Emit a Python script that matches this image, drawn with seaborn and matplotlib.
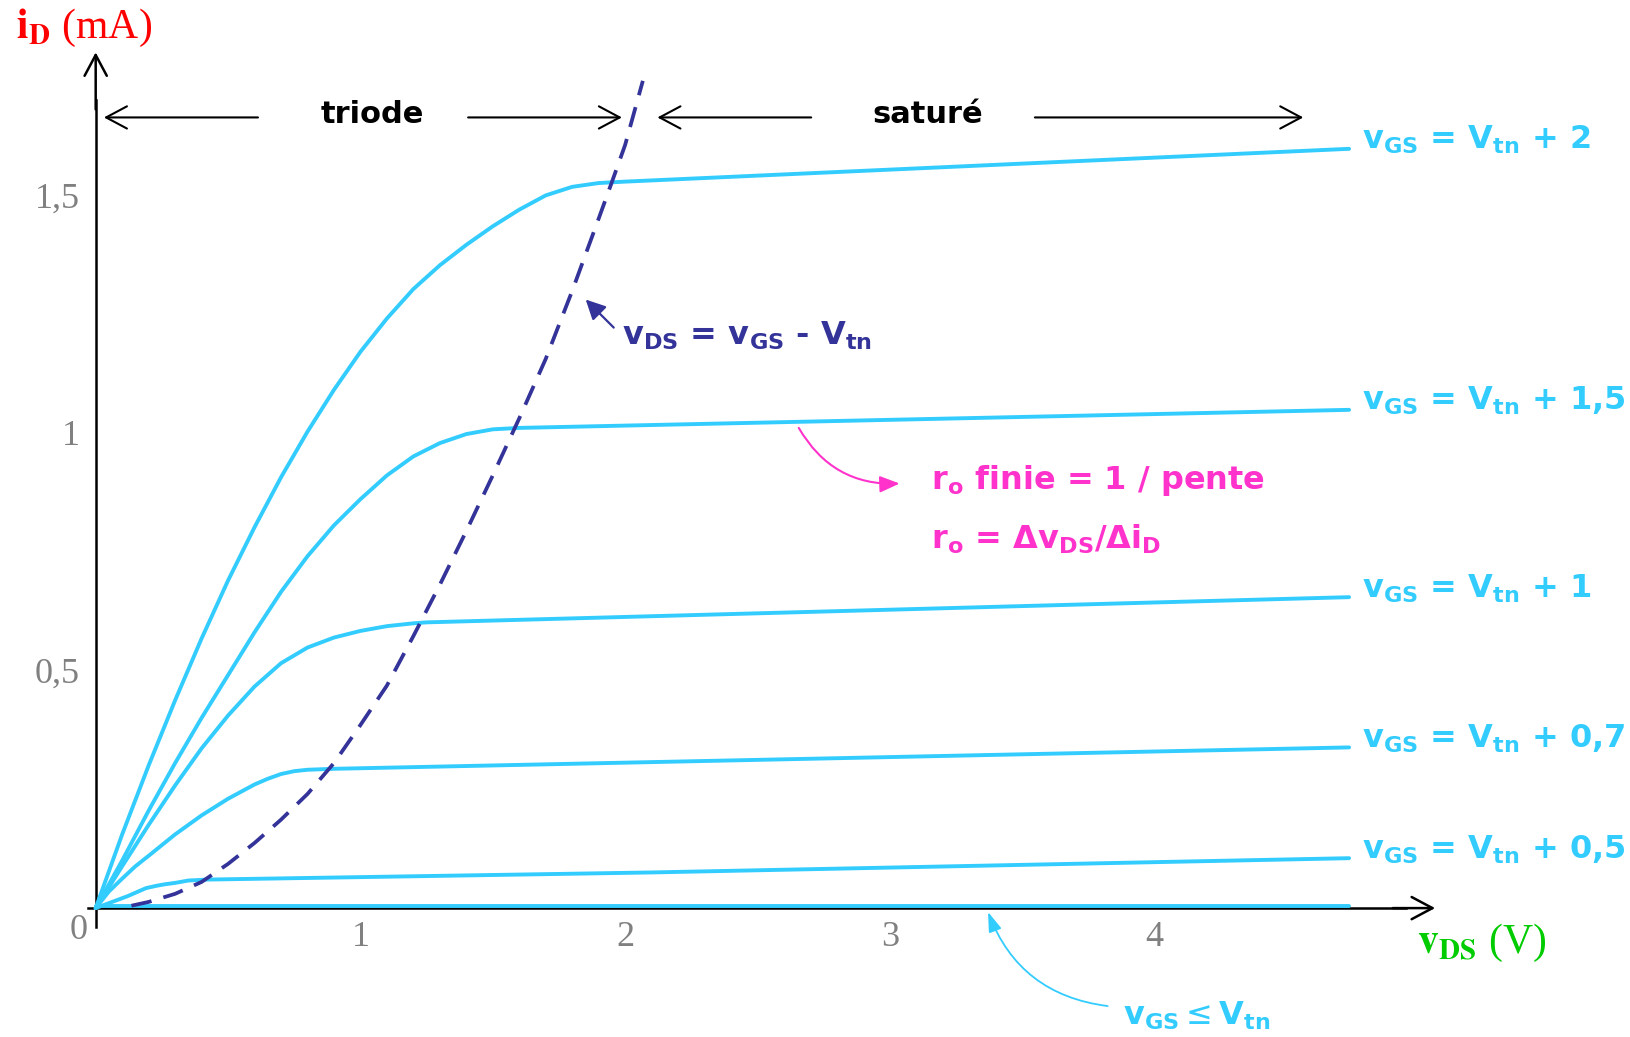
import numpy as np
import pandas as pd
import matplotlib
matplotlib.use("Agg")
import matplotlib.pyplot as plt
import seaborn as sns

# Output characteristics of an n-channel MOSFET: drain current (mA) vs drain-source voltage (V)
vds_2 = [0, 0.1, 0.2, 0.3, 0.4, 0.5, 0.6, 0.7, 0.8, 0.9, 1.0, 1.1, 1.2, 1.3, 1.4, 1.5, 1.6, 1.7, 1.8, 1.9, 2.0, 4.735]
id_2 = [0, 0.155, 0.300, 0.437, 0.567, 0.689, 0.801, 0.906, 1.002, 1.090, 1.170, 1.240, 1.302, 1.352,
        1.395, 1.434, 1.469, 1.499, 1.517, 1.525, 1.528, 1.597]

vds_15 = [0, 0.1, 0.2, 0.3, 0.4, 0.5, 0.6, 0.7, 0.8, 0.9, 1.0, 1.1, 1.2, 1.3, 1.4, 1.5, 1.6, 4.735]
id_15 = [0, 0.10, 0.205, 0.305, 0.40, 0.49, 0.58, 0.665, 0.74, 0.805, 0.86, 0.91, 0.95, 0.978, 0.997,
         1.007, 1.010, 1.048]

vds_1 = [0, 0.1, 0.2, 0.3, 0.4, 0.5, 0.6, 0.7, 0.8, 0.9, 1.0, 1.1, 1.2, 1.25, 4.735]
id_1 = [0, 0.088, 0.175, 0.258, 0.336, 0.405, 0.466, 0.515, 0.548, 0.569, 0.583, 0.593, 0.599, 0.601, 0.654]

vds_07 = [0, 0.05, 0.1, 0.15, 0.2, 0.3, 0.4, 0.5, 0.6, 0.65, 0.7, 0.75, 0.8, 0.9, 4.735]
id_07 = [0, 0.035, 0.062, 0.088, 0.11, 0.155, 0.195, 0.23, 0.26, 0.272, 0.282, 0.288, 0.291, 0.293, 0.338]

vds_05 = [0, 0.067, 0.12, 0.19, 0.23, 0.26, 0.3, 0.35, 0.42, 2.1, 4.735]
id_05 = [0, 0.014, 0.025, 0.042, 0.047, 0.05, 0.053, 0.058, 0.06, 0.075, 0.105]

vds_off = [0, 4.735]
id_off = [0.004, 0.004]

# Boundary between triode and saturation: vDS = vGS - Vtn
vds_edge = [0.135, 0.2, 0.3, 0.4, 0.5, 0.6, 0.7, 0.8, 0.9, 1.0, 1.1, 1.2, 1.3, 1.4, 1.5, 1.6, 1.7, 1.8,
            1.9, 1.95, 2.0, 2.067]
id_edge = [0.005, 0.013, 0.030, 0.055, 0.093, 0.137, 0.186, 0.24, 0.305, 0.385, 0.468, 0.572, 0.680,
           0.793, 0.91, 1.030, 1.155, 1.298, 1.45, 1.527, 1.605, 1.74]

curve_labels = ["2", "1,5", "1", "0,7", "0,5"]
x_ticks = [1, 2, 3, 4]
x_tick_labels = ["1", "2", "3", "4"]
y_ticks = [0.5, 1.0, 1.5]
y_tick_labels = ["0,5", "1", "1,5"]

CYAN = "#33ccff"
NAVY = "#333399"
PINK = "#ff33cc"
GRAY = "#808080"
NOTE_SIZE = 23
TICK_SIZE = 26

sns.set_theme(style="white")
plt.rcParams["font.family"] = ["DejaVu Sans"]
plt.rcParams["mathtext.fontset"] = "dejavusans"

fig = plt.figure(figsize=(16.31, 10.37), dpi=100)
ax = fig.add_axes([0, 0, 1, 1])
ax.set_facecolor("white")

curves = [(vds_2, id_2), (vds_15, id_15), (vds_1, id_1), (vds_07, id_07), (vds_05, id_05)]
for lab, (xs, ys) in zip(curve_labels, curves):
    df = pd.DataFrame({"vds": xs, "id": ys})
    sns.lineplot(data=df, x="vds", y="id", ax=ax, color=CYAN, lw=2.8, sort=False,
                 estimator=None, solid_capstyle="round", solid_joinstyle="round")
    ax.text(xs[-1] + 0.05, ys[-1], r"$\mathbf{v_{GS}}$ = $\mathbf{V_{tn}}$ + " + lab,
            color=CYAN, fontsize=NOTE_SIZE, fontweight="bold", ha="left", va="baseline")

sns.lineplot(data=pd.DataFrame({"vds": vds_off, "id": id_off}), x="vds", y="id", ax=ax,
             color=CYAN, lw=2.8, sort=False, estimator=None)

edge = pd.DataFrame({"vds": vds_edge, "id": id_edge})
sns.lineplot(data=edge, x="vds", y="id", ax=ax, color=NAVY, lw=2.7, sort=False, estimator=None)
ax.lines[-1].set_dashes((5.5, 3.3))

ax.set_xlim(-0.3615, 5.800)
ax.set_ylim(-0.2711, 1.910)
ax.set_xlabel("")
ax.set_ylabel("")

# Axes through the origin with arrow tips
for side in ["top", "right"]:
    ax.spines[side].set_visible(False)
ax.spines["left"].set_position(("data", 0))
ax.spines["bottom"].set_position(("data", 0))
ax.spines["left"].set_bounds(-0.04, 1.70)
ax.spines["bottom"].set_bounds(-0.03, 4.95)
for s in ["left", "bottom"]:
    ax.spines[s].set_color("black")
    ax.spines[s].set_linewidth(1.8)
    ax.spines[s].set_zorder(1)
arrow_kw = dict(arrowstyle="->,head_length=0.75,head_width=0.4", color="black", lw=1.8,
                mutation_scale=20, shrinkA=0, shrinkB=0)
ax.annotate("", xy=(5.06, 0), xytext=(4.9, 0), arrowprops=arrow_kw)
ax.annotate("", xy=(0, 1.80), xytext=(0, 1.68), arrowprops=arrow_kw)

ax.set_xticks(x_ticks, x_tick_labels)
ax.set_yticks(y_ticks, y_tick_labels)
ax.tick_params(axis="both", direction="inout", length=11, width=1.6, color="black",
               labelcolor=GRAY, labelsize=TICK_SIZE)
ax.tick_params(axis="x", pad=4)
ax.tick_params(axis="y", pad=6)
for t in ax.get_xticklabels() + ax.get_yticklabels():
    t.set_fontfamily("Liberation Serif")
ax.text(-0.03, -0.012, "0", color=GRAY, fontsize=TICK_SIZE, family="Liberation Serif", ha="right", va="top")
ax.grid(False)

# Axis titles
ax.text(-0.30, 1.83, r"$\mathbf{i_D}$ (mA)", color="#ff0000", fontsize=30,
        family="Liberation Serif", math_fontfamily="stix", ha="left", va="baseline")
ax.text(4.99, -0.095, r"$\mathbf{v_{DS}}$ (V)", color="#00cc00", fontsize=30,
        family="Liberation Serif", math_fontfamily="stix", ha="left", va="baseline")

# Region markers
region_kw = dict(arrowstyle="->,head_length=0.75,head_width=0.4", color="black", lw=1.5,
                 mutation_scale=20, shrinkA=0, shrinkB=0)
y_reg = 1.663
ax.annotate("", xy=(0.031, y_reg), xytext=(0.613, y_reg), arrowprops=region_kw)
ax.annotate("", xy=(1.988, y_reg), xytext=(1.407, y_reg), arrowprops=region_kw)
ax.annotate("", xy=(2.122, y_reg), xytext=(2.703, y_reg), arrowprops=region_kw)
ax.annotate("", xy=(4.562, y_reg), xytext=(3.548, y_reg), arrowprops=region_kw)
ax.text(1.045, 1.67, "triode", fontsize=22, fontweight="bold", color="black", ha="center", va="center")
ax.text(3.143, 1.67, "saturé", fontsize=22, fontweight="bold", color="black", ha="center", va="center")

# Boundary annotation
ax.annotate("", xy=(1.851, 1.280), xytext=(1.957, 1.221),
            arrowprops=dict(arrowstyle="-|>,head_length=0.6,head_width=0.3", color=NAVY, lw=1.6,
                            mutation_scale=20, shrinkA=0, shrinkB=0))
ax.text(1.988, 1.185, r"$\mathbf{v_{DS}}$ = $\mathbf{v_{GS}}$ - $\mathbf{V_{tn}}$",
        color=NAVY, fontsize=NOTE_SIZE, fontweight="bold", ha="left", va="baseline")

# Output resistance note
ax.annotate("", xy=(3.037, 0.893), xytext=(2.656, 1.010),
            arrowprops=dict(arrowstyle="-|>,head_length=0.6,head_width=0.25", color=PINK, lw=1.5,
                            mutation_scale=20, shrinkA=0, shrinkB=0,
                            connectionstyle="arc3,rad=0.3"))
ax.text(3.155, 0.882, r"$\mathbf{r_o}$ finie = 1 / pente", color=PINK, fontsize=NOTE_SIZE,
        fontweight="bold", ha="left", va="baseline")
ax.text(3.155, 0.757, r"$\mathbf{r_o}$ = $\mathbf{\Delta v_{DS}/\Delta i_D}$", color=PINK,
        fontsize=NOTE_SIZE, fontweight="bold", ha="left", va="baseline")

# Cut-off curve note
ax.annotate("", xy=(3.371, -0.008), xytext=(3.823, -0.206),
            arrowprops=dict(arrowstyle="-|>,head_length=0.6,head_width=0.2", color=CYAN, lw=1.3,
                            mutation_scale=20, shrinkA=0, shrinkB=0,
                            connectionstyle="arc3,rad=-0.3"))
ax.text(3.882, -0.245, r"$\mathbf{v_{GS}} \leq \mathbf{V_{tn}}$", color=CYAN, fontsize=NOTE_SIZE,
        fontweight="bold", ha="left", va="baseline")

fig.savefig("out.png", dpi=100, facecolor="white")
